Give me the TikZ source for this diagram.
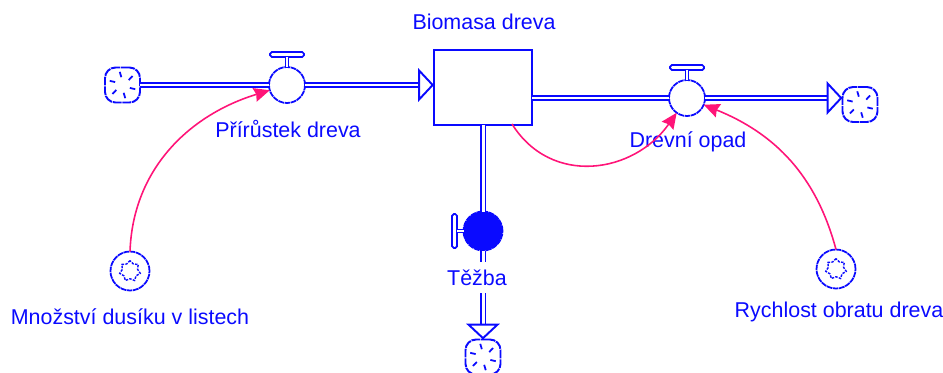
\documentclass[tikz,border=0pt]{standalone}
\usepackage{fontspec}
\setmainfont{Liberation Sans}
\usetikzlibrary{arrows.meta,positioning,shapes.geometric}
\definecolor{flowblue}{RGB}{10,10,255}
\definecolor{linkpink}{RGB}{255,20,120}
\begin{document}
\begin{tikzpicture}[
 lbl/.style={text=flowblue,font=\fontsize{12.2}{14}\selectfont,inner sep=0pt},
 stock/.style={rectangle,draw=flowblue,line width=1.1pt,fill=white,minimum width=1.96cm,minimum height=1.5cm,outer sep=0pt},
 valve/.style={circle,draw=flowblue,line width=1pt,dash pattern=on 3.2pt off 0.4pt,fill=white,minimum size=0.72cm,inner sep=0pt,outer sep=0pt},
 valveon/.style={valve,fill=flowblue,minimum size=0.78cm},
 handlebar/.style={rectangle,draw=flowblue,line width=1pt,fill=white,rounded corners=1pt,minimum width=0.68cm,minimum height=0.1cm,inner sep=0pt,outer sep=0pt},
 handlebarv/.style={handlebar,minimum width=0.1cm,minimum height=0.68cm},
 stem/.style={draw=flowblue,line width=0.8pt,double=white,double distance=1.2pt},
 cloudbox/.style={rectangle,draw=flowblue,line width=1.1pt,rounded corners=6pt,dash pattern=on 5pt off 0.5pt,fill=white,minimum size=0.7cm,inner sep=0pt,outer sep=0pt},
 cloudtick/.style={draw=flowblue,line width=1pt},
 aux/.style={circle,draw=flowblue,line width=1pt,dash pattern=on 3.2pt off 0.4pt,fill=white,minimum size=0.78cm,inner sep=0pt,outer sep=0pt},
 auxcore/.style={star,star points=7,star point ratio=1.35,draw=flowblue,line width=0.8pt,dash pattern=on 1.4pt off 0.7pt,minimum size=0.42cm,inner sep=0pt},
 pipe/.style={draw=flowblue,line width=1.1pt,double=white,double distance=1.7pt},
 pipearrow/.style={pipe,-{Triangle[open,fill=white,length=9pt,width=19pt]}},
 link/.style={draw=linkpink,line width=0.9pt,-{Stealth[length=9pt,width=8pt,inset=1pt]}}
]
\useasboundingbox (0,0) rectangle (18.86,-7.44);
\node[stock] (biomasa) at (9.66,-1.75) {};
\node[valve] (valveA) at (5.74,-1.70) {};
\node[valve] (valveB) at (13.74,-1.96) {};
\node[valveon] (valveC) at (9.66,-4.62) {};
\node[cloudbox] (cloudL) at (2.45,-1.70) {};
\node[cloudbox] (cloudR) at (17.20,-2.09) {};
\node[cloudbox] (cloudD) at (9.66,-7.14) {};
\node[aux] (dusik) at (2.60,-5.42) {};
\node[aux] (obrat) at (16.72,-5.38) {};
\node[auxcore] (dusikcore) at (dusik) {};
\node[auxcore] (obratcore) at (obrat) {};
\node[handlebar,above=0.2cm of valveA] (barA) {};
\node[handlebar,above=0.2cm of valveB] (barB) {};
\node[handlebarv,left=0.13cm of valveC] (barC) {};
\foreach \c in {cloudL,cloudR,cloudD}
  \foreach \a in {20,80,140,200,260,320}
    \draw[cloudtick,shift={(\c)},rotate=\a] (0.15,0.05) -- (0.25,0.1);
% pipes
\draw[stem] (valveA) -- (barA);
\draw[stem] (valveB) -- (barB);
\draw[stem] (valveC) -- (barC);
\draw[pipe] (cloudL.east) -- (valveA.west);
\draw[pipearrow] (valveA.east) -- (valveA.east -| biomasa.west);
\draw[pipe] (valveB.west -| biomasa.east) -- (valveB.west);
\draw[pipearrow] (valveB.east) -- (valveB.east -| cloudR.west);
\draw[pipe] (biomasa.south) -- (valveC.north);
\draw[pipearrow] (valveC.south) -- (cloudD.north);
% labels
\node[lbl] (biomasalbl) at (9.68,-0.44) {Biomasa dreva};
\node[lbl] (valveAlbl) at (5.76,-2.58) {Přírůstek dreva};
\node[lbl] (valveBlbl) at (13.76,-2.84) {Drevní opad};
\node[lbl,fill=white,minimum height=0.62cm,minimum width=1.3cm] (valveClbl) at (9.54,-5.55) {Těžba};
\node[lbl] (dusiklbl) at (2.60,-6.34) {Množství dusíku v listech};
\node[lbl] (obratlbl) at (16.78,-6.24) {Rychlost obratu dreva};
% links
\coordinate (linkstart) at (10.24,-2.48);
\draw[link] (dusik.north) to[out=88,in=197] (valveA);
\draw[link] (linkstart) to[out=-58,in=235,looseness=1.15] (valveB);
\draw[link] (obrat.north) to[out=105,in=-22] (valveB);
\end{tikzpicture}
\end{document}
